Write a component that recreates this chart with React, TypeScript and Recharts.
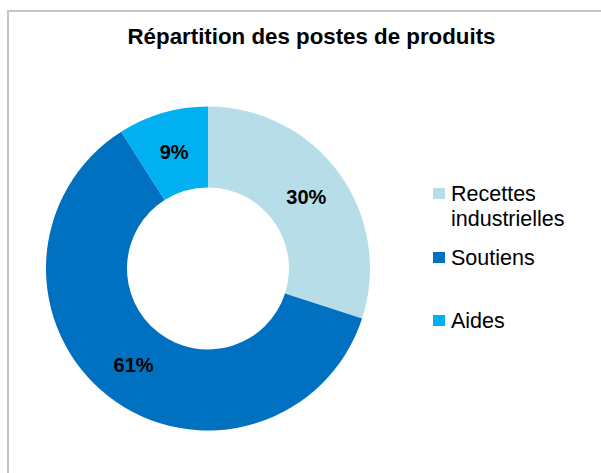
import React from "react";
import { PieChart, Pie, Cell, Legend } from "recharts";

const categories = ["Recettes industrielles", "Soutiens", "Aides"];
const shares = [30, 61, 9];
const COLORS = ["#B7DDE8", "#0070C0", "#00B0F0"];
const TITLE = "Répartition des postes de produits";

const data = categories.map((name, i) => ({ name, value: shares[i] }));

const RAD = Math.PI / 180;
const FONT = "Liberation Sans, Arial, sans-serif";

const renderLabel = (props: any) => {
    const { cx, cy, midAngle, innerRadius, outerRadius, value } = props;
    const r = (innerRadius + outerRadius) / 2;
    const x = cx + r * Math.cos(-midAngle * RAD);
    const y = cy + r * Math.sin(-midAngle * RAD);
    return (
        <text
            x={x}
            y={y}
            fill="#000"
            textAnchor="middle"
            dominantBaseline="central"
            style={{ fontFamily: FONT, fontWeight: "bold", fontSize: 20 }}>
            {`${value}%`}
        </text>
    );
};

// legend rows sit where Excel spread them, not evenly
const legendTops = [182, 246, 309];

const LegendBox = () => (
    <div style={{ position: "relative", width: 170, height: 473 }}>
        {categories.map((name, index) => (
            <div
                key={`leg-${index}`}
                style={{
                    position: "absolute",
                    left: 0,
                    top: legendTops[index],
                    display: "flex",
                    alignItems: "flex-start",
                    fontFamily: FONT,
                    fontSize: 21.5,
                    lineHeight: "24.5px",
                    color: "#000",
                }}>
                <span
                    style={{
                        display: "inline-block",
                        width: 12,
                        height: 11,
                        background: COLORS[index],
                        marginTop: 6,
                        marginRight: 6,
                        flexShrink: 0,
                    }}
                />
                <span style={{ width: 145 }}>{name}</span>
            </div>
        ))}
    </div>
);

export default function App() {
    return (
        <div style={{ position: "fixed", left: 0, top: 0, width: 601, height: 473, background: "#fff", overflow: "hidden" }}>
            <div
                style={{
                    position: "absolute",
                    left: 7,
                    top: 10,
                    width: 640,
                    height: 520,
                    border: "2px solid #c4c4c4",
                }}
            />
            <div
                style={{
                    position: "absolute",
                    left: 0,
                    width: 623,
                    top: 24,
                    textAlign: "center",
                    fontFamily: FONT,
                    fontWeight: "bold",
                    fontSize: 22.3,
                    color: "#000",
                }}>
                {TITLE}
            </div>
            <div style={{ position: "absolute", left: 0, top: 0 }}>
                <PieChart width={601} height={473} margin={{ top: 0, right: 0, bottom: 0, left: 0 }}>
                    <Pie
                        data={data}
                        dataKey="value"
                        nameKey="name"
                        cx={208}
                        cy={268.5}
                        startAngle={90}
                        endAngle={-270}
                        innerRadius={81}
                        outerRadius={162}
                        stroke="none"
                        label={renderLabel}
                        labelLine={false}
                        isAnimationActive={false}>
                        {data.map((entry, index) => (
                            <Cell key={`cell-${index}`} fill={COLORS[index % COLORS.length]} />
                        ))}
                    </Pie>
                    <Legend
                        layout="vertical"
                        align="right"
                        verticalAlign="top"
                        wrapperStyle={{ left: 433, top: 0, width: 170 }}
                        content={<LegendBox />}
                    />
                </PieChart>
            </div>
        </div>
    );
}
